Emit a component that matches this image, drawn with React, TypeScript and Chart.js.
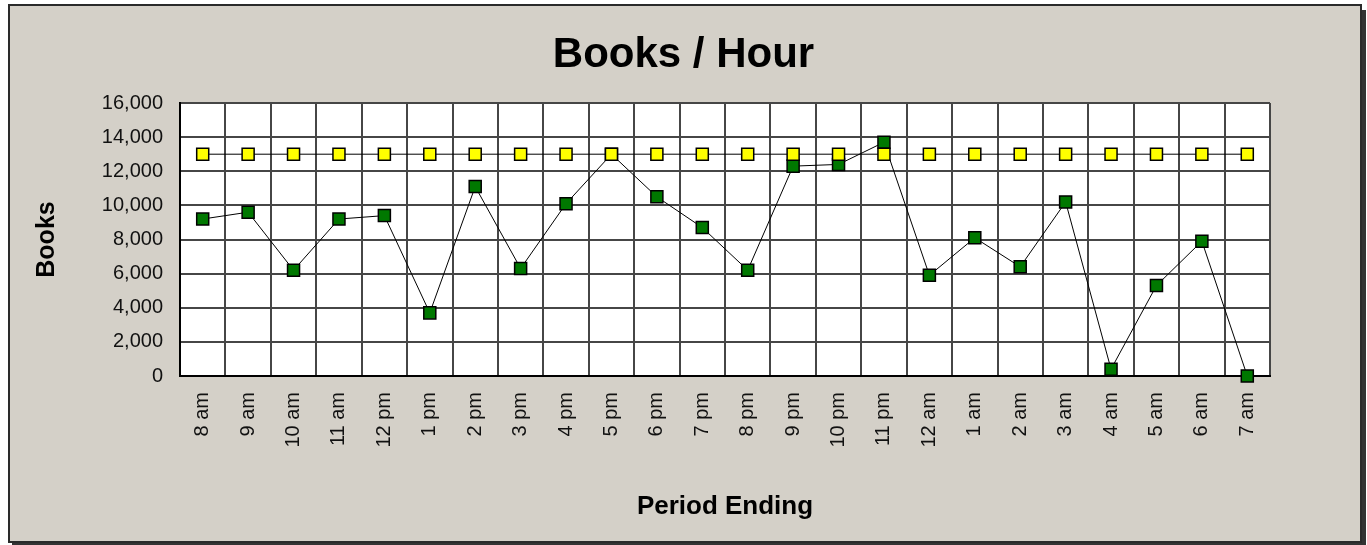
import React, { useEffect, useRef } from "react";
import { Chart, registerables } from "chart.js";

Chart.register(...registerables);

const hours = [
  "8 am", "9 am", "10 am", "11 am", "12 pm", "1 pm", "2 pm", "3 pm",
  "4 pm", "5 pm", "6 pm", "7 pm", "8 pm", "9 pm", "10 pm", "11 pm",
  "12 am", "1 am", "2 am", "3 am", "4 am", "5 am", "6 am", "7 am",
];

const booksPerHour = [
  9200, 9600, 6200, 9200, 9400, 3700, 11100, 6300,
  10100, 13000, 10500, 8700, 6200, 12300, 12400, 13700,
  5900, 8100, 6400, 10200, 400, 5300, 7900, 0,
];

const targetPerHour = [
  13000, 13000, 13000, 13000, 13000, 13000, 13000, 13000,
  13000, 13000, 13000, 13000, 13000, 13000, 13000, 13000,
  13000, 13000, 13000, 13000, 13000, 13000, 13000, 13000,
];

const yTicks = [0, 2000, 4000, 6000, 8000, 10000, 12000, 14000, 16000];

const FONT = "'Liberation Sans', Arial, Helvetica, sans-serif";

const plotBg = {
  id: "plotBg",
  beforeDraw(chart: any) {
    const { ctx, chartArea } = chart;
    if (!chartArea) return;
    ctx.save();
    ctx.fillStyle = "#ffffff";
    ctx.fillRect(chartArea.left, chartArea.top, chartArea.right - chartArea.left, chartArea.bottom - chartArea.top);
    ctx.restore();
  },
};

export default function App() {
  const ref = useRef<HTMLCanvasElement | null>(null);

  useEffect(() => {
    document.body.style.margin = "0";
    const canvas = ref.current;
    if (!canvas) return;
    const chart = new Chart(canvas, {
      type: "line",
      data: {
        labels: hours,
        datasets: [
          {
            label: "Target",
            data: targetPerHour,
            borderColor: "#000000",
            borderWidth: 1,
            pointStyle: "rect",
            pointRadius: 8.5,
            pointBackgroundColor: "#ffff00",
            pointBorderColor: "#000000",
            pointBorderWidth: 1.5,
            tension: 0,
            clip: false as any,
          },
          {
            label: "Books",
            data: booksPerHour,
            borderColor: "#000000",
            borderWidth: 1,
            pointStyle: "rect",
            pointRadius: 8.5,
            pointBackgroundColor: "#007800",
            pointBorderColor: "#000000",
            pointBorderWidth: 1.5,
            tension: 0,
            clip: false as any,
          },
        ],
      },
      options: {
        responsive: false,
        animation: false,
        layout: { padding: { left: 0, right: 0, top: 0, bottom: 0 } },
        plugins: {
          legend: { display: false },
          tooltip: { enabled: false },
          title: {
            display: true,
            text: "Books / Hour",
            color: "#000000",
            font: { family: FONT, size: 42, weight: "bold" },
            padding: { top: 30, bottom: 22.6 },
          },
        },
        scales: {
          x: {
            type: "category",
            offset: true,
            grid: { display: true, offset: true, color: "#464646", lineWidth: 2, drawTicks: false },
            border: { display: true, color: "#000000", width: 2 },
            ticks: {
              autoSkip: false,
              maxRotation: 90,
              minRotation: 90,
              padding: 16,
              color: "#111111",
              font: { family: FONT, size: 20 },
            },
            title: {
              display: true,
              text: "Period Ending",
              color: "#000000",
              font: { family: FONT, size: 26, weight: "bold" },
              padding: { top: 4, bottom: 22.4 },
            },
            afterFit(scale: any) {
              scale.height = 169;
            },
          },
          y: {
            type: "linear",
            position: "left",
            min: 0,
            max: 16000,
            afterBuildTicks(scale: any) {
              scale.ticks = yTicks.map((v) => ({ value: v }));
            },
            grid: { display: true, color: "#464646", lineWidth: 2, drawTicks: false },
            border: { display: true, color: "#000000", width: 2 },
            ticks: {
              padding: 17,
              color: "#111111",
              font: { family: FONT, size: 20 },
              callback: (v: any) => Number(v).toLocaleString("en-US"),
            },
            title: {
              display: true,
              text: "Books",
              color: "#000000",
              font: { family: FONT, size: 25, weight: "bold" },
              padding: { top: 32, bottom: 4 },
            },
            afterFit(scale: any) {
              scale.width = 180;
            },
          },
          yRight: {
            type: "linear",
            position: "right",
            min: 0,
            max: 1,
            display: true,
            grid: { display: false, drawTicks: false },
            border: { display: false },
            ticks: { display: false },
            afterFit(scale: any) {
              scale.width = 97;
            },
          },
        },
      },
      plugins: [plotBg],
    } as any);
    return () => chart.destroy();
  }, []);

  return (
    <div style={{ position: "fixed", left: 0, top: 0, width: 1367, height: 545, background: "#ffffff", overflow: "hidden" }}>
      <div
        style={{
          position: "absolute",
          left: 8,
          top: 4,
          width: 1350,
          height: 535,
          background: "#d4d0c8",
          border: "2px solid #2a2a2a",
          boxShadow: "4px 6px 0 #333333",
        }}
      />
      <canvas ref={ref} width={1367} height={545} style={{ position: "absolute", left: 0, top: 0, width: 1367, height: 545 }} />
    </div>
  );
}
